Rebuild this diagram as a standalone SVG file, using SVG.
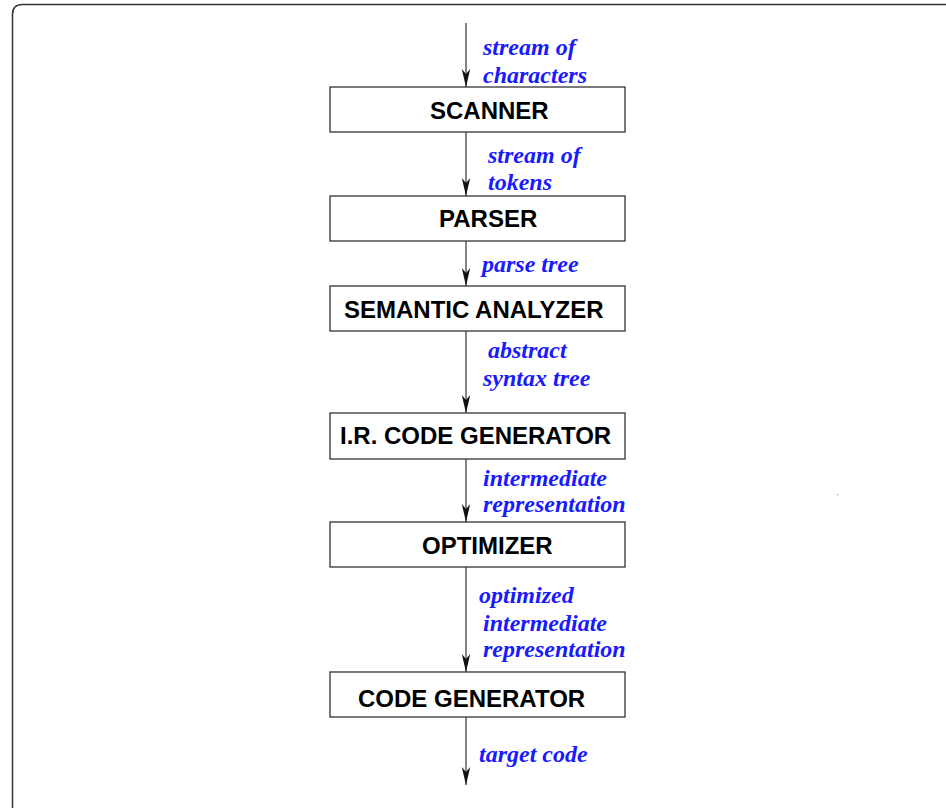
<svg xmlns="http://www.w3.org/2000/svg" width="946" height="808" viewBox="0 0 946 808">
  <defs>
    <style>
      .frame { fill: none; stroke: #333; stroke-width: 1.5; }
      .box { fill: #fff; stroke: #333; stroke-width: 1.3; }
      .name { font-family: "Liberation Sans", Arial, sans-serif; font-weight: bold; font-size: 24px; fill: #000; }
      .flow { stroke: #333; stroke-width: 1.2; fill: none; }
      .data { font-family: "Liberation Serif", "Times New Roman", serif; font-weight: bold; font-style: italic; font-size: 24px; fill: #1a1aff; }
    </style>
    <marker id="head" markerUnits="userSpaceOnUse" markerWidth="20" markerHeight="10" viewBox="-19 -5 20 10" refX="0" refY="0" orient="auto">
      <path d="M0,0 L-18,-4.2 L-13,0 L-18,4.2 Z" fill="#111"/>
    </marker>
  </defs>

  <rect width="946" height="808" fill="#fff"/>

  <!-- page frame, running off the right and bottom edges -->
  <path class="frame" d="M12.5,808 V14.5 Q12.5,4.5 22.5,4.5 H946"/>
  <rect x="837" y="494" width="1.2" height="1.2" fill="#999"/>

  <!-- connectors with data labels -->
  <g id="connectors">
    <line class="flow" x1="466" y1="23" x2="466" y2="87" marker-end="url(#head)"/>
    <line class="flow" x1="466" y1="132" x2="466" y2="196" marker-end="url(#head)"/>
    <line class="flow" x1="466" y1="241" x2="466" y2="286" marker-end="url(#head)"/>
    <line class="flow" x1="466" y1="331" x2="466" y2="413" marker-end="url(#head)"/>
    <line class="flow" x1="466" y1="459" x2="466" y2="522" marker-end="url(#head)"/>
    <line class="flow" x1="466" y1="567" x2="466" y2="672" marker-end="url(#head)"/>
    <line class="flow" x1="466" y1="717" x2="466" y2="785" marker-end="url(#head)"/>

    <text class="data" x="483" y="55">stream of</text>
    <text class="data" x="483" y="83">characters</text>
    <text class="data" x="488" y="163">stream of</text>
    <text class="data" x="488" y="190">tokens</text>
    <text class="data" x="482" y="272">parse tree</text>
    <text class="data" x="488" y="358">abstract</text>
    <text class="data" x="483" y="386">syntax tree</text>
    <text class="data" x="483" y="486">intermediate</text>
    <text class="data" x="483" y="512">representation</text>
    <text class="data" x="479" y="603">optimized</text>
    <text class="data" x="483" y="631">intermediate</text>
    <text class="data" x="483" y="657">representation</text>
    <text class="data" x="479" y="762">target code</text>
  </g>

  <!-- compiler phases -->
  <g id="scanner">
    <rect class="box" x="330" y="87" width="295" height="45"/>
    <text class="name" x="430" y="119">SCANNER</text>
  </g>
  <g id="parser">
    <rect class="box" x="330" y="196" width="295" height="45"/>
    <text class="name" x="439" y="227">PARSER</text>
  </g>
  <g id="semantic-analyzer">
    <rect class="box" x="330" y="286" width="295" height="45"/>
    <text class="name" x="344" y="318">SEMANTIC ANALYZER</text>
  </g>
  <g id="ir-code-generator">
    <rect class="box" x="330" y="413" width="295" height="46"/>
    <text class="name" x="340" y="444">I.R. CODE GENERATOR</text>
  </g>
  <g id="optimizer">
    <rect class="box" x="330" y="522" width="295" height="45"/>
    <text class="name" x="422" y="554">OPTIMIZER</text>
  </g>
  <g id="code-generator">
    <rect class="box" x="330" y="672" width="295" height="45"/>
    <text class="name" x="358" y="707">CODE GENERATOR</text>
  </g>
</svg>
